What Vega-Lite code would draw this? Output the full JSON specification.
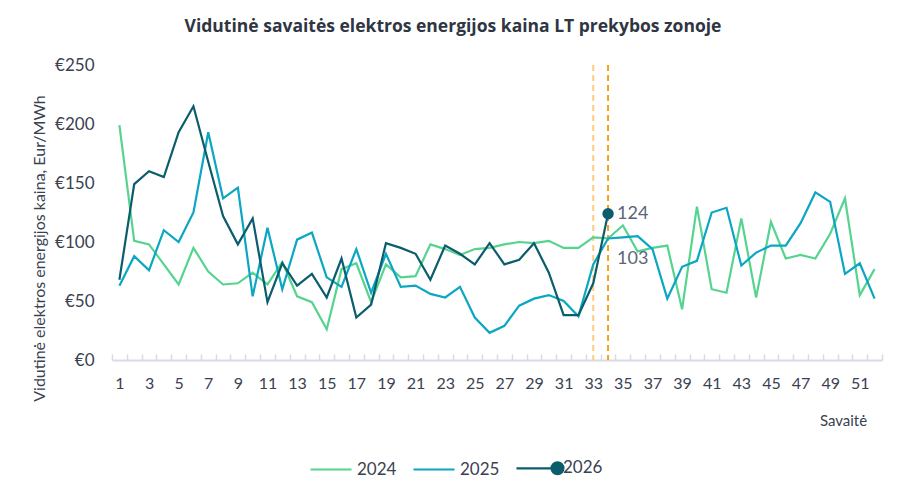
{
  "$schema": "https://vega.github.io/schema/vega-lite/v6.json",
  "autosize": {"type": "none"},
  "width": 770,
  "height": 295,
  "padding": {"left": 112, "top": 65, "right": 24, "bottom": 140},
  "background": "white",
  "title": {
    "text": "Vidutinė savaitės elektros energijos kaina LT prekybos zonoje",
    "font": "Open Sans",
    "fontSize": 17.5,
    "fontWeight": "bold",
    "color": "#2f3542",
    "anchor": "middle",
    "frame": "group",
    "dx": -44,
    "offset": 21
  },
  "data": {
    "values": [
      {"week": 1, "year": "2024", "value": 199}, {"week": 2, "year": "2024", "value": 101},
      {"week": 3, "year": "2024", "value": 98}, {"week": 4, "year": "2024", "value": 81},
      {"week": 5, "year": "2024", "value": 64}, {"week": 6, "year": "2024", "value": 95},
      {"week": 7, "year": "2024", "value": 75}, {"week": 8, "year": "2024", "value": 64},
      {"week": 9, "year": "2024", "value": 65}, {"week": 10, "year": "2024", "value": 74},
      {"week": 11, "year": "2024", "value": 64}, {"week": 12, "year": "2024", "value": 83},
      {"week": 13, "year": "2024", "value": 54}, {"week": 14, "year": "2024", "value": 49},
      {"week": 15, "year": "2024", "value": 26}, {"week": 16, "year": "2024", "value": 77},
      {"week": 17, "year": "2024", "value": 82}, {"week": 18, "year": "2024", "value": 49},
      {"week": 19, "year": "2024", "value": 81}, {"week": 20, "year": "2024", "value": 70},
      {"week": 21, "year": "2024", "value": 71}, {"week": 22, "year": "2024", "value": 98},
      {"week": 23, "year": "2024", "value": 94}, {"week": 24, "year": "2024", "value": 89},
      {"week": 25, "year": "2024", "value": 94}, {"week": 26, "year": "2024", "value": 95},
      {"week": 27, "year": "2024", "value": 98}, {"week": 28, "year": "2024", "value": 100},
      {"week": 29, "year": "2024", "value": 99}, {"week": 30, "year": "2024", "value": 101},
      {"week": 31, "year": "2024", "value": 95}, {"week": 32, "year": "2024", "value": 95},
      {"week": 33, "year": "2024", "value": 104}, {"week": 34, "year": "2024", "value": 103},
      {"week": 35, "year": "2024", "value": 114}, {"week": 36, "year": "2024", "value": 92},
      {"week": 37, "year": "2024", "value": 95}, {"week": 38, "year": "2024", "value": 97},
      {"week": 39, "year": "2024", "value": 43}, {"week": 40, "year": "2024", "value": 130},
      {"week": 41, "year": "2024", "value": 60}, {"week": 42, "year": "2024", "value": 57},
      {"week": 43, "year": "2024", "value": 120}, {"week": 44, "year": "2024", "value": 53},
      {"week": 45, "year": "2024", "value": 117}, {"week": 46, "year": "2024", "value": 86},
      {"week": 47, "year": "2024", "value": 89}, {"week": 48, "year": "2024", "value": 86},
      {"week": 49, "year": "2024", "value": 107}, {"week": 50, "year": "2024", "value": 137},
      {"week": 51, "year": "2024", "value": 55}, {"week": 52, "year": "2024", "value": 77},
      {"week": 1, "year": "2025", "value": 63}, {"week": 2, "year": "2025", "value": 88},
      {"week": 3, "year": "2025", "value": 76}, {"week": 4, "year": "2025", "value": 110},
      {"week": 5, "year": "2025", "value": 100}, {"week": 6, "year": "2025", "value": 125},
      {"week": 7, "year": "2025", "value": 193}, {"week": 8, "year": "2025", "value": 137},
      {"week": 9, "year": "2025", "value": 146}, {"week": 10, "year": "2025", "value": 54},
      {"week": 11, "year": "2025", "value": 112}, {"week": 12, "year": "2025", "value": 60},
      {"week": 13, "year": "2025", "value": 102}, {"week": 14, "year": "2025", "value": 108},
      {"week": 15, "year": "2025", "value": 70}, {"week": 16, "year": "2025", "value": 62},
      {"week": 17, "year": "2025", "value": 94}, {"week": 18, "year": "2025", "value": 57},
      {"week": 19, "year": "2025", "value": 90}, {"week": 20, "year": "2025", "value": 62},
      {"week": 21, "year": "2025", "value": 63}, {"week": 22, "year": "2025", "value": 56},
      {"week": 23, "year": "2025", "value": 53}, {"week": 24, "year": "2025", "value": 62},
      {"week": 25, "year": "2025", "value": 36}, {"week": 26, "year": "2025", "value": 23},
      {"week": 27, "year": "2025", "value": 29}, {"week": 28, "year": "2025", "value": 46},
      {"week": 29, "year": "2025", "value": 52}, {"week": 30, "year": "2025", "value": 55},
      {"week": 31, "year": "2025", "value": 50}, {"week": 32, "year": "2025", "value": 37},
      {"week": 33, "year": "2025", "value": 81}, {"week": 34, "year": "2025", "value": 103},
      {"week": 35, "year": "2025", "value": 104}, {"week": 36, "year": "2025", "value": 105},
      {"week": 37, "year": "2025", "value": 94}, {"week": 38, "year": "2025", "value": 52},
      {"week": 39, "year": "2025", "value": 79}, {"week": 40, "year": "2025", "value": 84},
      {"week": 41, "year": "2025", "value": 125}, {"week": 42, "year": "2025", "value": 129},
      {"week": 43, "year": "2025", "value": 80}, {"week": 44, "year": "2025", "value": 91},
      {"week": 45, "year": "2025", "value": 97}, {"week": 46, "year": "2025", "value": 97},
      {"week": 47, "year": "2025", "value": 116}, {"week": 48, "year": "2025", "value": 142},
      {"week": 49, "year": "2025", "value": 134}, {"week": 50, "year": "2025", "value": 73},
      {"week": 51, "year": "2025", "value": 82}, {"week": 52, "year": "2025", "value": 52},
      {"week": 1, "year": "2026", "value": 68}, {"week": 2, "year": "2026", "value": 149},
      {"week": 3, "year": "2026", "value": 160}, {"week": 4, "year": "2026", "value": 155},
      {"week": 5, "year": "2026", "value": 193}, {"week": 6, "year": "2026", "value": 215},
      {"week": 7, "year": "2026", "value": 168}, {"week": 8, "year": "2026", "value": 122},
      {"week": 9, "year": "2026", "value": 98}, {"week": 10, "year": "2026", "value": 120},
      {"week": 11, "year": "2026", "value": 49}, {"week": 12, "year": "2026", "value": 82},
      {"week": 13, "year": "2026", "value": 63}, {"week": 14, "year": "2026", "value": 73},
      {"week": 15, "year": "2026", "value": 53}, {"week": 16, "year": "2026", "value": 86},
      {"week": 17, "year": "2026", "value": 36}, {"week": 18, "year": "2026", "value": 47},
      {"week": 19, "year": "2026", "value": 99}, {"week": 20, "year": "2026", "value": 95},
      {"week": 21, "year": "2026", "value": 90}, {"week": 22, "year": "2026", "value": 68},
      {"week": 23, "year": "2026", "value": 97}, {"week": 24, "year": "2026", "value": 90},
      {"week": 25, "year": "2026", "value": 81}, {"week": 26, "year": "2026", "value": 99},
      {"week": 27, "year": "2026", "value": 81}, {"week": 28, "year": "2026", "value": 85},
      {"week": 29, "year": "2026", "value": 99}, {"week": 30, "year": "2026", "value": 74},
      {"week": 31, "year": "2026", "value": 38}, {"week": 32, "year": "2026", "value": 38},
      {"week": 33, "year": "2026", "value": 65}, {"week": 34, "year": "2026", "value": 124}
    ]
  },
  "encoding": {
    "x": {
      "field": "week",
      "type": "ordinal",
      "bandPosition": 0.5,
      "scale": {"type": "band", "paddingInner": 0, "paddingOuter": 0},
      "axis": {
        "title": "Savaitė",
        "titleX": 731,
        "titleY": 60,
        "titleAlign": "center",
        "titleBaseline": "middle",
        "titleFont": "Lato",
        "titleFontSize": 15,
        "titleFontWeight": "normal",
        "titleColor": "#3a4150",
        "labelAngle": 0,
        "labelExpr": "datum.value % 2 == 1 ? datum.label : ''",
        "labelFont": "Lato",
        "labelFontSize": 16,
        "labelColor": "#3a4150",
        "labelPadding": 21,
        "tickBand": "extent",
        "tickColor": "#d9dbe3",
        "tickWidth": 1.5,
        "tickSize": -6,
        "domainColor": "#d9dbe3",
        "domainWidth": 2,
        "grid": false
      }
    },
    "y": {
      "field": "value",
      "type": "quantitative",
      "scale": {"domain": [0, 250], "nice": false, "zero": true},
      "axis": {
        "title": "Vidutinė elektros energijos kaina, Eur/MWh",
        "titleX": -73,
        "titleY": 183,
        "titleAngle": -90,
        "titleAlign": "center",
        "titleBaseline": "middle",
        "titleFont": "Lato",
        "titleFontSize": 16,
        "titleFontWeight": "normal",
        "titleColor": "#3a4150",
        "values": [0, 50, 100, 150, 200, 250],
        "labelExpr": "'€' + datum.value",
        "labelFont": "Lato",
        "labelFontSize": 17,
        "labelColor": "#3a4150",
        "labelPadding": 18,
        "labelFlush": false,
        "ticks": false,
        "domain": false,
        "grid": false
      }
    }
  },
  "layer": [
    {
      "data": {"values": [{"week": 33}]},
      "mark": {"type": "rule", "color": "#ffcb7e", "strokeWidth": 2, "strokeDash": [6, 4]},
      "encoding": {"x": {"field": "week", "type": "ordinal", "bandPosition": 0.5}, "y": null}
    },
    {
      "data": {"values": [{"week": 34}]},
      "mark": {"type": "rule", "color": "#f4a21e", "strokeWidth": 2, "strokeDash": [6, 4]},
      "encoding": {"x": {"field": "week", "type": "ordinal", "bandPosition": 0.5}, "y": null}
    },
    {
      "mark": {"type": "line", "strokeWidth": 2.2},
      "encoding": {
        "color": {
          "field": "year",
          "type": "nominal",
          "scale": {"domain": ["2024", "2025", "2026"], "range": ["#56d48f", "#0ba6c2", "#0b5d6d"]},
          "legend": {
            "title": null,
            "orient": "none",
            "direction": "horizontal",
            "legendX": 197,
            "legendY": 381,
            "symbolType": "M-1,0H1",
            "symbolSize": 1681,
            "symbolStrokeWidth": 2.2,
            "labelFont": "Lato",
            "labelFontSize": 17,
            "labelColor": "#3a4150",
            "labelOffset": 4,
            "columnPadding": 12,
            "encode": {
              "symbols": {
                "update": {
                  "shape": {"signal": "datum.label == '2026' ? 'M-1,0H1M0.71,0A0.29,0.29 0 1,0 1.29,0A0.29,0.29 0 1,0 0.71,0Z' : 'M-1,0H1'"},
                  "fill": {"signal": "datum.label == '2026' ? '#0b5d6d' : 'transparent'"}
                }
              }
            }
          }
        }
      }
    },
    {
      "transform": [{"filter": "datum.year == '2026' && datum.week == 34"}],
      "mark": {"type": "point", "filled": true, "size": 130, "opacity": 1, "color": "#0b5d6d"},
      "encoding": {}
    },
    {
      "transform": [{"filter": "datum.year == '2026' && datum.week == 34"}],
      "mark": {"type": "text", "align": "left", "baseline": "middle", "dx": 9, "font": "Lato", "fontSize": 18, "color": "#5b6579"},
      "encoding": {"text": {"field": "value"}}
    },
    {
      "transform": [{"filter": "datum.year == '2025' && datum.week == 34"}],
      "mark": {"type": "text", "align": "left", "baseline": "middle", "dx": 9, "dy": 21, "font": "Lato", "fontSize": 18, "color": "#5b6579"},
      "encoding": {"text": {"field": "value"}}
    }
  ],
  "config": {"view": {"stroke": null}}
}
